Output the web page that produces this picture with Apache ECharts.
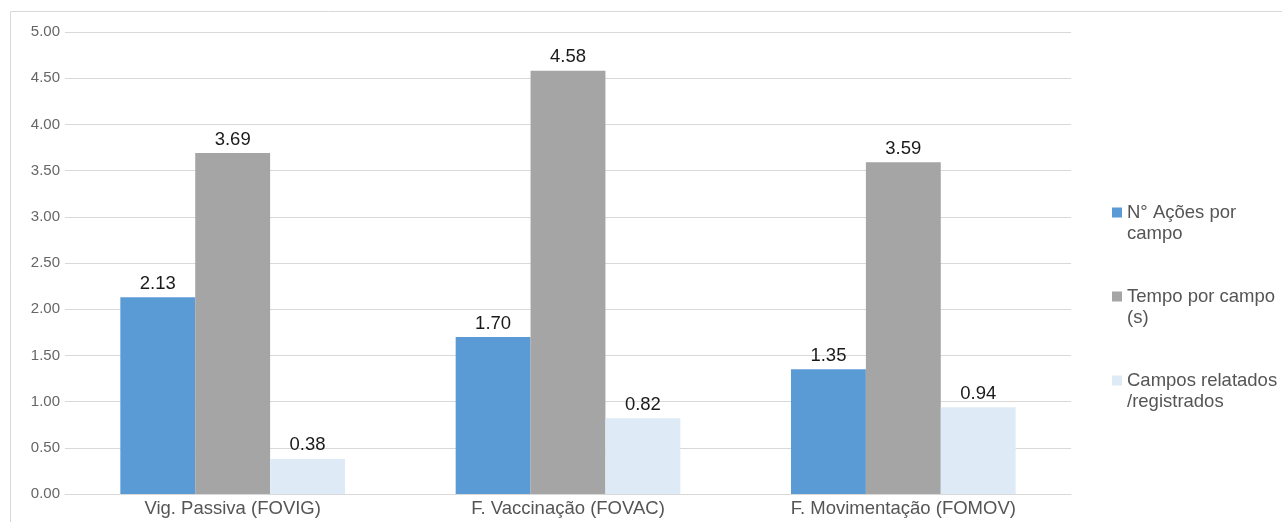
<!DOCTYPE html>
<html>
<head>
<meta charset="utf-8">
<script src="https://cdn.jsdelivr.net/npm/echarts@6/dist/echarts.min.js"></script>
<style>
  html, body { margin: 0; padding: 0; background: #fff; }
  #chart { width: 1282px; height: 522px; }
</style>
</head>
<body>
<div id="chart"></div>
<script>
// Categories and series values
const categories = ['Vig. Passiva (FOVIG)', 'F. Vaccinação (FOVAC)', 'F. Movimentação (FOMOV)'];
const acoesPorCampo = [2.13, 1.70, 1.35];
const tempoPorCampo = [3.69, 4.58, 3.59];
const camposRelatados = [0.38, 0.82, 0.94];
const seriesNames = ['N° Ações por campo', 'Tempo por campo (s)', 'Campos relatados /registrados'];
// Legend entries wrap onto two lines; a blank leading line keeps the marker beside the first line
const legendText = {
  'N° Ações por campo': ' \nN° Ações por\ncampo',
  'Tempo por campo (s)': ' \nTempo por campo\n(s)',
  'Campos relatados /registrados': ' \nCampos relatados\n/registrados'
};

const font = 'Liberation Sans, Arial, sans-serif';
const chart = echarts.init(document.getElementById('chart'));

function barSeries(name, data, color) {
  return {
    name: name,
    type: 'bar',
    data: data,
    barGap: '0%',
    barCategoryGap: '33%',
    itemStyle: { color: color },
    label: {
      show: true,
      position: 'top',
      distance: 4,
      color: '#1a1a1a',
      fontSize: 18.5,
      fontFamily: font,
      formatter: p => p.value.toFixed(2)
    },
    emphasis: { disabled: true }
  };
}

chart.setOption({
  animation: false,
  backgroundColor: '#ffffff',
  graphic: [{
    type: 'rect',
    shape: { x: 10.5, y: 11.5, width: 1400, height: 700 },
    style: { fill: 'none', stroke: '#d9d9d9', lineWidth: 1 },
    silent: true,
    z: -1
  }],
  grid: { left: 65, right: 211, top: 32, bottom: 28 },
  legend: {
    orient: 'vertical',
    left: 1107,
    top: 176,
    itemWidth: 10,
    itemHeight: 10,
    itemGap: 21,
    icon: 'rect',
    data: seriesNames,
    formatter: n => legendText[n],
    textStyle: {
      color: '#555555',
      fontSize: 18.5,
      fontFamily: font,
      lineHeight: 21
    }
  },
  xAxis: {
    type: 'category',
    data: categories,
    axisLine: { lineStyle: { color: '#d9d9d9' } },
    axisTick: { show: false },
    axisLabel: { color: '#555555', fontSize: 18.5, fontFamily: font, margin: 5 }
  },
  yAxis: {
    type: 'value',
    min: 0,
    max: 5,
    interval: 0.5,
    axisLine: { show: false },
    axisTick: { show: false },
    splitLine: { lineStyle: { color: '#d9d9d9' } },
    axisLabel: {
      color: '#666666',
      fontSize: 15,
      fontFamily: font,
      margin: 5,
      formatter: v => v.toFixed(2)
    }
  },
  series: [
    barSeries(seriesNames[0], acoesPorCampo, '#5b9bd5'),
    barSeries(seriesNames[1], tempoPorCampo, '#a5a5a5'),
    barSeries(seriesNames[2], camposRelatados, '#deebf7')
  ]
});
</script>
</body>
</html>
